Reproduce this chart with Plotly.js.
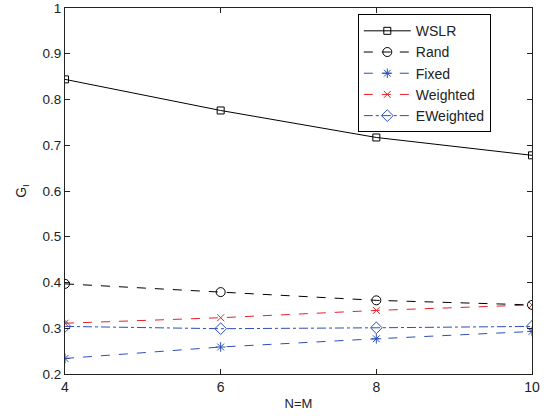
<!DOCTYPE html>
<html><head><meta charset="utf-8">
<script src="https://cdn.plot.ly/plotly-3.0.1.min.js"></script>
<style>body{margin:0;padding:0;background:#fff}#c{width:552px;height:416px}</style>
</head><body><div id="c"></div>
<script>
var xVals = [4, 6, 8, 10];
var wslr = [0.844, 0.776, 0.717, 0.678];
var rand = [0.397, 0.379, 0.361, 0.351];
var fixed = [0.234, 0.259, 0.277, 0.293];
var weighted = [0.311, 0.323, 0.339, 0.351];
var eweighted = [0.304, 0.299, 0.301, 0.304];
var names = ['WSLR', 'Rand', 'Fixed', 'Weighted', 'EWeighted'];
var xTicks = [4, 6, 8, 10];
var yTicks = [0.2, 0.3, 0.4, 0.5, 0.6, 0.7, 0.8, 0.9, 1];

var blue = '#2e4fb5', red = '#e8202a';
function tr(y, name, color, dash, sym, msize) {
  return {x: xVals, y: y, name: name, type: 'scatter', mode: 'lines+markers',
    line: {color: color, width: 1, dash: dash},
    marker: {symbol: sym, size: msize, color: color, line: {color: color, width: 1}}};
}
var data = [
  tr(wslr, names[0], '#000', 'solid', 'square-open', 7),
  tr(rand, names[1], '#000', 'dash', 'circle-open', 9),
  tr(fixed, names[2], blue, 'dash', 'asterisk-open', 8),
  tr(weighted, names[3], red, 'dash', 'x-thin-open', 7),
  tr(eweighted, names[4], blue, 'dashdot', 'diamond-open', 9)
];
var layout = {
  width: 552, height: 416,
  margin: {l: 65, r: 20, t: 8, b: 42},
  paper_bgcolor: '#fff', plot_bgcolor: '#fff',
  font: {family: 'Arial, Liberation Sans, sans-serif', size: 13, color: '#222'},
  showlegend: true,
  legend: {x: 0.627, y: 0.983, xanchor: 'left', yanchor: 'top',
    bordercolor: '#000', borderwidth: 1, bgcolor: '#fff',
    font: {size: 14, color: '#222'}, tracegroupgap: 0, itemwidth: 47},
  xaxis: {range: [4, 10], tickvals: xTicks, ticks: 'inside', ticklen: 5, tickcolor: '#222',
    showline: true, linecolor: '#222', linewidth: 1, mirror: 'ticks', showgrid: false, zeroline: false,
    tickfont: {size: 14},
    title: {text: 'N=M', standoff: 5, font: {size: 13}}},
  yaxis: {range: [0.2, 1], tickvals: yTicks, ticktext: ['0.2','0.3','0.4','0.5','0.6','0.7','0.8','0.9','1'],
    ticks: 'inside', ticklen: 5, tickcolor: '#222',
    showline: true, linecolor: '#222', linewidth: 1, mirror: 'ticks', showgrid: false, zeroline: false,
    tickfont: {size: 13.5},
    title: {text: 'G<sub>I</sub>', standoff: 12, font: {size: 14}}}
};
Plotly.newPlot('c', data, layout, {displayModeBar: false, staticPlot: true});
</script></body></html>
